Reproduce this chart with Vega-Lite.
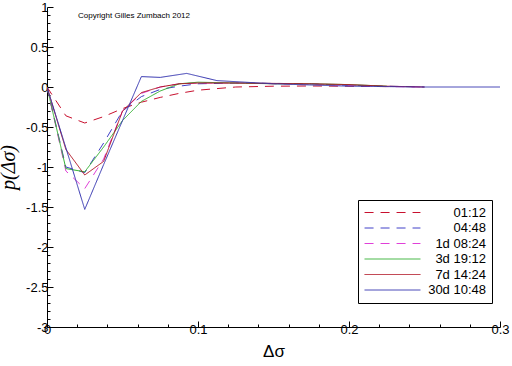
{
  "$schema": "https://vega.github.io/schema/vega-lite/v6.json",
  "width": 453,
  "height": 320,
  "autosize": "none",
  "padding": {"left": 47, "top": 7, "right": 12, "bottom": 39},
  "background": "white",
  "config": {
    "view": {"stroke": null},
    "font": "Liberation Sans"
  },
  "datasets": {
    "curves": [
      {"s": "01:12", "x": 0, "y": 0},
      {"s": "01:12", "x": 0.0125, "y": -0.36},
      {"s": "01:12", "x": 0.025, "y": -0.45},
      {"s": "01:12", "x": 0.0375, "y": -0.37},
      {"s": "01:12", "x": 0.05, "y": -0.27},
      {"s": "01:12", "x": 0.0625, "y": -0.19},
      {"s": "01:12", "x": 0.075, "y": -0.13},
      {"s": "01:12", "x": 0.0875, "y": -0.08},
      {"s": "01:12", "x": 0.1, "y": -0.04},
      {"s": "01:12", "x": 0.1125, "y": -0.02},
      {"s": "01:12", "x": 0.125, "y": 0.0},
      {"s": "01:12", "x": 0.15, "y": 0.01},
      {"s": "01:12", "x": 0.175, "y": 0.0125},
      {"s": "01:12", "x": 0.2, "y": 0.01},
      {"s": "01:12", "x": 0.225, "y": 0.005},

      {"s": "04:48", "x": 0, "y": 0},
      {"s": "04:48", "x": 0.0125, "y": -1.0},
      {"s": "04:48", "x": 0.025, "y": -1.07},
      {"s": "04:48", "x": 0.0375, "y": -0.7},
      {"s": "04:48", "x": 0.05, "y": -0.3},
      {"s": "04:48", "x": 0.0625, "y": -0.12},
      {"s": "04:48", "x": 0.075, "y": -0.03},
      {"s": "04:48", "x": 0.0875, "y": 0.01},
      {"s": "04:48", "x": 0.1, "y": 0.04},
      {"s": "04:48", "x": 0.125, "y": 0.05},
      {"s": "04:48", "x": 0.15, "y": 0.045},
      {"s": "04:48", "x": 0.175, "y": 0.04},
      {"s": "04:48", "x": 0.2, "y": 0.02},
      {"s": "04:48", "x": 0.225, "y": 0.01},
      {"s": "04:48", "x": 0.25, "y": 0.0},

      {"s": "1d 08:24", "x": 0, "y": 0},
      {"s": "1d 08:24", "x": 0.0125, "y": -1.05},
      {"s": "1d 08:24", "x": 0.025, "y": -1.27},
      {"s": "1d 08:24", "x": 0.0375, "y": -0.9},
      {"s": "1d 08:24", "x": 0.05, "y": -0.3},
      {"s": "1d 08:24", "x": 0.0625, "y": -0.08},
      {"s": "1d 08:24", "x": 0.075, "y": 0.0},
      {"s": "1d 08:24", "x": 0.0875, "y": 0.04},
      {"s": "1d 08:24", "x": 0.1, "y": 0.05},
      {"s": "1d 08:24", "x": 0.125, "y": 0.05},
      {"s": "1d 08:24", "x": 0.15, "y": 0.04},
      {"s": "1d 08:24", "x": 0.175, "y": 0.035},
      {"s": "1d 08:24", "x": 0.2, "y": 0.02},
      {"s": "1d 08:24", "x": 0.225, "y": 0.005},
      {"s": "1d 08:24", "x": 0.25, "y": 0.0},

      {"s": "3d 19:12", "x": 0, "y": 0},
      {"s": "3d 19:12", "x": 0.0125, "y": -1.02},
      {"s": "3d 19:12", "x": 0.025, "y": -1.06},
      {"s": "3d 19:12", "x": 0.0375, "y": -0.75},
      {"s": "3d 19:12", "x": 0.05, "y": -0.42},
      {"s": "3d 19:12", "x": 0.0625, "y": -0.18},
      {"s": "3d 19:12", "x": 0.075, "y": -0.05},
      {"s": "3d 19:12", "x": 0.0875, "y": 0.04},
      {"s": "3d 19:12", "x": 0.1, "y": 0.06},
      {"s": "3d 19:12", "x": 0.125, "y": 0.05},
      {"s": "3d 19:12", "x": 0.15, "y": 0.04},
      {"s": "3d 19:12", "x": 0.175, "y": 0.04},
      {"s": "3d 19:12", "x": 0.2, "y": 0.03},
      {"s": "3d 19:12", "x": 0.225, "y": 0.01},

      {"s": "7d 14:24", "x": 0, "y": 0},
      {"s": "7d 14:24", "x": 0.0125, "y": -0.78},
      {"s": "7d 14:24", "x": 0.025, "y": -1.1},
      {"s": "7d 14:24", "x": 0.0375, "y": -0.93},
      {"s": "7d 14:24", "x": 0.05, "y": -0.3},
      {"s": "7d 14:24", "x": 0.0625, "y": -0.07},
      {"s": "7d 14:24", "x": 0.075, "y": 0.0},
      {"s": "7d 14:24", "x": 0.0875, "y": 0.04},
      {"s": "7d 14:24", "x": 0.1, "y": 0.05},
      {"s": "7d 14:24", "x": 0.125, "y": 0.05},
      {"s": "7d 14:24", "x": 0.15, "y": 0.045},
      {"s": "7d 14:24", "x": 0.175, "y": 0.04},
      {"s": "7d 14:24", "x": 0.2, "y": 0.03},
      {"s": "7d 14:24", "x": 0.225, "y": 0.01},
      {"s": "7d 14:24", "x": 0.25, "y": 0.0},

      {"s": "30d 10:48", "x": 0, "y": 0},
      {"s": "30d 10:48", "x": 0.0125, "y": -0.76},
      {"s": "30d 10:48", "x": 0.025, "y": -1.53},
      {"s": "30d 10:48", "x": 0.0375, "y": -0.97},
      {"s": "30d 10:48", "x": 0.05, "y": -0.42},
      {"s": "30d 10:48", "x": 0.0625, "y": 0.13},
      {"s": "30d 10:48", "x": 0.075, "y": 0.12},
      {"s": "30d 10:48", "x": 0.0925, "y": 0.17},
      {"s": "30d 10:48", "x": 0.1125, "y": 0.08},
      {"s": "30d 10:48", "x": 0.15, "y": 0.04},
      {"s": "30d 10:48", "x": 0.2, "y": 0.01},
      {"s": "30d 10:48", "x": 0.25, "y": 0.0},
      {"s": "30d 10:48", "x": 0.3, "y": 0.0}
    ],
    "note": [
      {"x": 0.0205, "y": 0.89, "label": "Copyright Gilles Zumbach 2012"}
    ]
  },
  "resolve": {"scale": {"x": "independent", "y": "independent"}, "axis": {"x": "independent", "y": "independent"}},
  "layer": [
    {
      "data": {"name": "curves"},
      "mark": {"type": "line", "strokeOpacity": 0, "clip": true},
      "encoding": {
        "x": {
          "field": "x", "type": "quantitative",
          "scale": {"domain": [0, 0.3], "nice": false, "zero": false},
          "axis": {
            "orient": "bottom", "title": null, "labels": false, "domain": false,
            "values": [0.02, 0.04, 0.06, 0.08, 0.12, 0.14, 0.16, 0.18, 0.22, 0.24, 0.26, 0.28],
            "tickSize": -3, "tickColor": "black", "grid": false
          }
        },
        "y": {
          "field": "y", "type": "quantitative",
          "scale": {"domain": [-3, 1], "nice": false, "zero": false},
          "axis": {
            "orient": "left", "title": null, "labels": false, "domain": false,
            "values": [-2.9, -2.8, -2.7, -2.6, -2.4, -2.3, -2.2, -2.1, -1.9, -1.8, -1.7, -1.6, -1.4, -1.3, -1.2, -1.1, -0.9, -0.8, -0.7, -0.6, -0.4, -0.3, -0.2, -0.1, 0.1, 0.2, 0.3, 0.4, 0.6, 0.7, 0.8, 0.9],
            "tickSize": -3, "tickColor": "black", "grid": false
          }
        }
      }
    },
    {
      "data": {"name": "curves"},
      "mark": {"type": "line", "strokeWidth": 1, "clip": true},
      "encoding": {
        "x": {
          "field": "x", "type": "quantitative",
          "scale": {"domain": [0, 0.3], "nice": false, "zero": false},
          "axis": {
            "orient": "bottom",
            "title": "Δσ",
            "titleFont": "Liberation Sans", "titleFontSize": 17, "titleFontWeight": "normal", "titleColor": "black", "titlePadding": 7,
            "values": [0, 0.1, 0.2, 0.3],
            "format": ".1~f",
            "labelFontSize": 13, "labelColor": "black", "labelPadding": 2, "labelFlush": false, "labelOverlap": false,
            "tickSize": -6,
            "tickColor": "black", "domainColor": "black", "grid": false
          }
        },
        "y": {
          "field": "y", "type": "quantitative",
          "scale": {"domain": [-3, 1], "nice": false, "zero": false},
          "axis": {
            "orient": "left",
            "title": "p(Δσ)",
            "titleFont": "Liberation Serif", "titleFontStyle": "italic", "titleFontSize": 20, "titleFontWeight": "normal", "titleColor": "black", "titlePadding": 7,
            "values": [-3, -2.5, -2, -1.5, -1, -0.5, 0, 0.5, 1],
            "format": "~g",
            "labelExpr": "replace(datum.label, '−', '-')",
            "labelFontSize": 13, "labelColor": "black", "labelPadding": 5, "labelFlush": false, "labelOverlap": false,
            "tickSize": -6,
            "tickColor": "black", "domainColor": "black", "grid": false
          }
        },
        "color": {
          "field": "s", "type": "nominal",
          "scale": {
            "domain": ["01:12", "04:48", "1d 08:24", "3d 19:12", "7d 14:24", "30d 10:48"],
            "range": ["#c8102e", "#4040c8", "#e040d8", "#30b030", "#b01020", "#3434b0"]
          },
          "legend": {
            "title": null,
            "orient": "none", "legendX": 311, "legendY": 193,
            "symbolType": "M-5,0H5", "symbolSize": 125, "symbolStrokeWidth": 1, "symbolOffset": 22,
            "labelFontSize": 13, "labelColor": "black", "labelAlign": "right", "labelOffset": 87,
            "rowPadding": 1.5, "padding": 6,
            "strokeColor": "black", "fillColor": "white"
          }
        },
        "strokeDash": {
          "field": "s", "type": "nominal",
          "scale": {
            "domain": ["01:12", "04:48", "1d 08:24", "3d 19:12", "7d 14:24", "30d 10:48"],
            "range": [[9, 7], [9, 7], [9, 7], [1, 0], [1, 0], [1, 0]]
          },
          "legend": null
        }
      }
    },
    {
      "data": {"name": "note"},
      "mark": {"type": "text", "align": "left", "baseline": "middle", "fontSize": 8, "font": "Liberation Sans", "color": "black"},
      "encoding": {
        "x": {"field": "x", "type": "quantitative", "scale": {"domain": [0, 0.3], "nice": false, "zero": false}, "axis": null},
        "y": {"field": "y", "type": "quantitative", "scale": {"domain": [-3, 1], "nice": false, "zero": false}, "axis": null},
        "text": {"field": "label"}
      }
    }
  ]
}
